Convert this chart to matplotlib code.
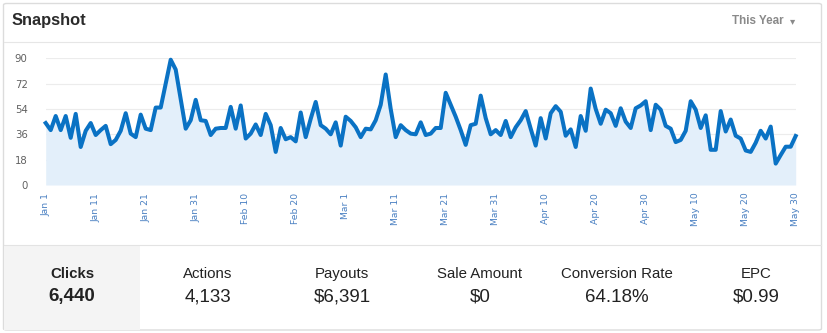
import matplotlib
matplotlib.use('Agg')
import matplotlib.pyplot as plt
from matplotlib.patches import FancyBboxPatch, Rectangle
from matplotlib.lines import Line2D
import pandas as pd

W, H = 828, 333

# daily clicks, Jan 1 - May 30 (2016)
days = pd.date_range('2016-01-01', '2016-05-30', freq='D')
clicks = [
    44, 39, 49, 39, 49, 33.5, 50.5, 27, 38.5, 44,
    35.5, 39, 42, 29, 32, 38.5, 51, 36.5, 34, 50,
    40, 39, 55, 55, 72, 89, 82, 61, 40, 46,
    60.5, 46, 45.5, 35.5, 40, 40.5, 40.5, 55.5, 40, 56.5,
    33, 36.5, 43, 35.5, 50.5, 42.5, 23.5, 40.5, 32.5, 34,
    31, 51.5, 34, 47, 59, 42.5, 40, 36, 44.5, 28,
    48.5, 45.5, 41, 34, 40, 39.5, 46, 57, 78.5, 54,
    34, 42.5, 39, 36.5, 36, 44.5, 35.5, 36.5, 40.5, 40.5,
    65.5, 57, 48.5, 39, 28.5, 42.5, 43.5, 63.5, 47.5, 36,
    39, 35.5, 45.5, 34, 41, 46, 52.5, 40, 28, 47.5,
    33, 51, 56, 52, 35, 39.5, 27, 49, 38.5, 68.5,
    54, 43.5, 53.5, 51, 42, 54.5, 45, 40.5, 54.5, 56.5,
    59.5, 39, 57, 53.5, 42, 40, 30.5, 32, 38.5, 59.5,
    53.5, 40.5, 49.5, 25, 25, 52.5, 38, 46.5, 35, 33,
    24.5, 23.5, 30, 38.5, 33, 41.5, 15.2, 21.3, 27.2, 27.2,
    34.8,
]
tick_labels = ['Jan 1', 'Jan 11', 'Jan 21', 'Jan 31', 'Feb 10', 'Feb 20',
               'Mar 1', 'Mar 11', 'Mar 21', 'Mar 31', 'Apr 10', 'Apr 20',
               'Apr 30', 'May 10', 'May 20', 'May 30']
y_ticks = [0, 18, 36, 54, 72, 90]

stat_names = ['Clicks', 'Actions', 'Payouts', 'Sale Amount', 'Conversion Rate', 'EPC']
stat_values = ['6,440', '4,133', '$6,391', '$0', '64.18%', '$0.99']
stat_x = [72, 208, 342, 480, 617, 756]

def fx(px):
    return px / W

def fy(py):
    return 1 - py / H

plt.rcParams['font.family'] = ['Liberation Sans', 'DejaVu Sans']

fig = plt.figure(figsize=(W / 100, H / 100), dpi=100)
fig.patch.set_facecolor('white')

# card frame
fig.patches.append(FancyBboxPatch((fx(3.5), fy(330)), fx(818), (326.5) / H,
                                  boxstyle='round,pad=0,rounding_size=0.004',
                                  transform=fig.transFigure, facecolor='white',
                                  edgecolor='#dcdcdc', lw=1.0, zorder=-2))
# header
fig.text(fx(12), fy(21), 'Snapshot', fontsize=11.8, fontweight='bold', color='#2b2b2b', va='center')
fig.text(fx(784), fy(21), 'This Year', fontsize=8.4, fontweight='bold', color='#8a8a8a',
         va='center', ha='right')
fig.text(fx(795), fy(21), '\u25be', fontsize=7.5, color='#8a8a8a', va='center', ha='right',
         family='DejaVu Sans')
fig.lines.append(Line2D([fx(4), fx(821)], [fy(41.5), fy(41.5)], transform=fig.transFigure,
                        color='#e6e6e6', lw=0.8))

# chart
ax = fig.add_axes([fx(45.7), fy(185), (795.7 - 45.7) / W, (185 - 58.3) / H])
ax.set_facecolor('none')
ax.fill_between(days, clicks, 0, color='#e3effa', lw=0)
ax.plot(days, clicks, color='#0a72c4', lw=2.9, solid_joinstyle='round', clip_on=False)
ax.set_xlim(days[0], days[-1])
ax.set_ylim(0, 90)
ax.set_yticks(y_ticks)
ax.set_yticklabels([str(v) for v in y_ticks], fontsize=7.3, color='#606060', family='DejaVu Sans')
ax.set_xticks(days[::10])
ax.set_xticklabels(tick_labels, rotation=90, fontsize=6.7, color='#4a80c2', family='DejaVu Sans',
                   va='top', ha='center')
ax.tick_params(axis='y', length=0, pad=13)
ax.tick_params(axis='x', length=0, pad=5.5)
ax.yaxis.grid(True, color='#ececec', lw=0.8)
ax.set_axisbelow(True)
for s in ax.spines.values():
    s.set_visible(False)

# stats strip
fig.lines.append(Line2D([fx(4), fx(821)], [fy(244.5), fy(244.5)], transform=fig.transFigure,
                        color='#e3e3e3', lw=0.8))
fig.patches.append(Rectangle((fx(4.5), fy(329.5)), fx(135.5), (329.5 - 245) / H,
                             transform=fig.transFigure, facecolor='#f4f4f4', lw=0, zorder=-1))
for i in range(len(stat_names)):
    w = 'bold' if i == 0 else 'normal'
    fig.text(fx(stat_x[i]), fy(274), stat_names[i], fontsize=10.8, color='#222222',
             ha='center', va='center', fontweight=w)
    fig.text(fx(stat_x[i]), fy(297), stat_values[i], fontsize=13.5, color='#222222',
             ha='center', va='center', fontweight=w)

fig.savefig('out.png', dpi=100)
